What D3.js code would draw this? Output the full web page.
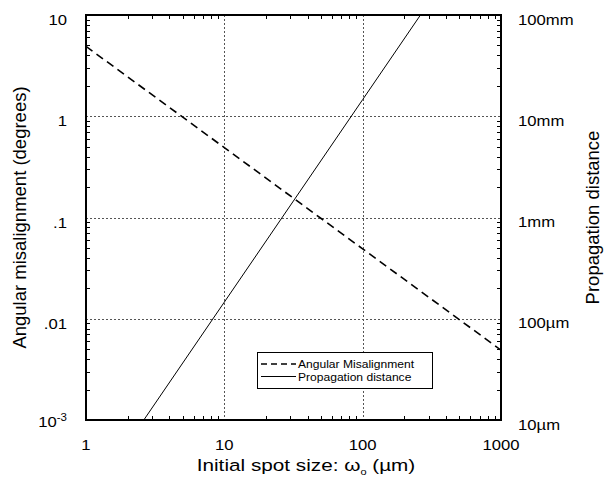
<!DOCTYPE html>
<html>
<head>
<meta charset="utf-8">
<script src="https://cdn.jsdelivr.net/npm/d3@7"></script>
<style>
  body { margin: 0; background: #fff; }
  text { font-family: "Liberation Sans", Arial, sans-serif; fill: #000; }
</style>
</head>
<body>
<div id="chart"></div>
<script>
// ---------------------------- data ----------------------------//

var spotSize = [1, 10, 100, 1000];               // µm
var angular = [4.9, 0.49, 0.049, 0.0049];        // degrees
var propagation = [0.00146, 0.146, 14.6, 1460];  // mm

var xTicks = [1, 10, 100, 1000];
var xTickLabels = ["1", "10", "100", "1000"];
var leftTicks = [10, 1, 0.1, 0.01, 0.001];
var leftTickLabels = ["10", "1", ".1", ".01", "10-3"];
var rightTicks = [100, 10, 1, 0.1, 0.01];
var rightTickLabels = ["100mm", "10mm", "1mm", "100µm", "10µm"];

var legendLabels = ["Angular Misalignment", "Propagation distance"];

// ---------------------------- svg init ----------------------------//

var width = 604,
  height = 490;
var margin = { top: 15, right: 103, bottom: 70, left: 86 };

var svg = d3.select("#chart").append("svg")
  .attr("width", width)
  .attr("height", height);

var x = d3.scaleLog().domain([1, 1000]).range([margin.left, width - margin.right]);
var yL = d3.scaleLog().domain([0.001, 10]).range([height - margin.bottom, margin.top]);
var yR = d3.scaleLog().domain([0.01, 100]).range([height - margin.bottom, margin.top]);

var x0 = x.range()[0], x1 = x.range()[1];
var y0 = yL.range()[0], y1 = yL.range()[1];

svg.append("clipPath").attr("id", "clip")
  .append("rect")
  .attr("x", x0).attr("y", y1)
  .attr("width", x1 - x0).attr("height", y0 - y1);

// minor ticks per decade
function minors(lo, hi) {
  var out = [];
  for (var e = Math.log10(lo); e < Math.log10(hi); e++) {
    for (var k = 2; k <= 9; k++) out.push(k * Math.pow(10, e));
  }
  return out;
}

// the tick text in the original is a wide face: stretch horizontally
var stretch = 1.15;
function place(px, py) {
  return "translate(" + px + "," + py + ") scale(" + stretch + ",1)";
}

// ---------------------------- grid ----------------------------//

var grid = svg.append("g")
  .attr("stroke", "#555")
  .attr("stroke-width", 1)
  .attr("stroke-dasharray", "2,2");

grid.selectAll(".gx").data([10, 100]).enter().append("line")
  .attr("x1", d => Math.round(x(d)) + 0.5).attr("x2", d => Math.round(x(d)) + 0.5)
  .attr("y1", y1).attr("y2", y0);

grid.selectAll(".gy").data([1, 0.1, 0.01]).enter().append("line")
  .attr("y1", d => Math.round(yL(d)) + 0.5).attr("y2", d => Math.round(yL(d)) + 0.5)
  .attr("x1", x0).attr("x2", x1);

// ---------------------------- ticks ----------------------------//

var tickLen = 4;
var ticks = svg.append("g").attr("stroke", "#000").attr("stroke-width", 1);

minors(1, 1000).forEach(function (d) {
  var px = Math.round(x(d)) + 0.5;
  ticks.append("line").attr("x1", px).attr("x2", px).attr("y1", y0).attr("y2", y0 - tickLen);
  ticks.append("line").attr("x1", px).attr("x2", px).attr("y1", y1).attr("y2", y1 + tickLen);
});
minors(0.001, 10).forEach(function (d) {
  var py = Math.round(yL(d)) + 0.5;
  ticks.append("line").attr("y1", py).attr("y2", py).attr("x1", x0).attr("x2", x0 + tickLen);
  ticks.append("line").attr("y1", py).attr("y2", py).attr("x1", x1).attr("x2", x1 - tickLen);
});

// ---------------------------- lines ----------------------------//

var plot = svg.append("g").attr("clip-path", "url(#clip)");

var lineL = d3.line().x(d => x(d[0])).y(d => yL(d[1]));
var lineR = d3.line().x(d => x(d[0])).y(d => yR(d[1]));

plot.append("path")
  .datum(d3.zip(spotSize, angular))
  .attr("d", lineL)
  .attr("fill", "none")
  .attr("stroke", "#000")
  .attr("stroke-width", 1.6)
  .attr("stroke-dasharray", "8,5");

plot.append("path")
  .datum(d3.zip(spotSize, propagation))
  .attr("d", lineR)
  .attr("fill", "none")
  .attr("stroke", "#000")
  .attr("stroke-width", 1);

// frame
svg.append("rect")
  .attr("x", x0).attr("y", y1)
  .attr("width", x1 - x0).attr("height", y0 - y1)
  .attr("fill", "none")
  .attr("stroke", "#000")
  .attr("stroke-width", 2);

// ---------------------------- tick labels ----------------------------//

svg.selectAll(".xl").data(xTicks).enter().append("text")
  .attr("transform", d => place(x(d), y0 + 30))
  .attr("text-anchor", "middle")
  .attr("font-size", 14.5)
  .text((d, i) => xTickLabels[i]);

svg.selectAll(".ll").data(leftTicks).enter().append("text")
  .attr("transform", d => place(67, yL(d) + (d === 0.001 ? 7 : 10)))
  .attr("text-anchor", "end")
  .attr("font-size", 14.5)
  .each(function (d, i) {
    var lab = leftTickLabels[i];
    var t = d3.select(this);
    if (lab === "10-3") {
      t.append("tspan").text("10");
      t.append("tspan").attr("dy", -6).attr("font-size", 10).text("-3");
    } else {
      t.text(lab);
    }
  });

svg.selectAll(".rl").data(rightTicks).enter().append("text")
  .attr("transform", d => place(x1 + 17, yR(d) + 9.5))
  .attr("text-anchor", "start")
  .attr("font-size", 14.5)
  .text((d, i) => rightTickLabels[i]);

// ---------------------------- axis titles ----------------------------//

var xt = svg.append("text")
  .attr("transform", "translate(306," + (y0 + 51) + ") scale(1.22,1)")
  .attr("text-anchor", "middle")
  .attr("font-size", 17);
xt.append("tspan").text("Initial spot size: ω");
xt.append("tspan").attr("dy", 4).attr("font-size", 9).text("o");
xt.append("tspan").attr("dy", -4).text(" (µm)");

svg.append("text")
  .attr("transform", "translate(26," + ((y0 + y1) / 2) + ") rotate(-90)")
  .attr("text-anchor", "middle")
  .attr("font-size", 18.5)
  .text("Angular misalignment (degrees)");

svg.append("text")
  .attr("transform", "translate(599," + ((y0 + y1) / 2) + ") rotate(-90)")
  .attr("text-anchor", "middle")
  .attr("font-size", 18.5)
  .text("Propagation distance");

// ---------------------------- legend ----------------------------//

var legend = svg.append("g");
legend.append("rect")
  .attr("x", 257.5).attr("y", 352.5)
  .attr("width", 175).attr("height", 36)
  .attr("fill", "#fff")
  .attr("stroke", "#000")
  .attr("stroke-width", 1);

legendLabels.forEach(function (lab, i) {
  var cy = 364 + i * 12.5;
  legend.append("line")
    .attr("x1", 261).attr("x2", 296)
    .attr("y1", cy).attr("y2", cy)
    .attr("stroke", "#000")
    .attr("stroke-width", i === 0 ? 1.6 : 1)
    .attr("stroke-dasharray", i === 0 ? "6,4" : null);
  legend.append("text")
    .attr("transform", "translate(298," + (cy + 4) + ") scale(1.05,1)")
    .attr("font-size", 11.5)
    .text(lab);
});
</script>
</body>
</html>
